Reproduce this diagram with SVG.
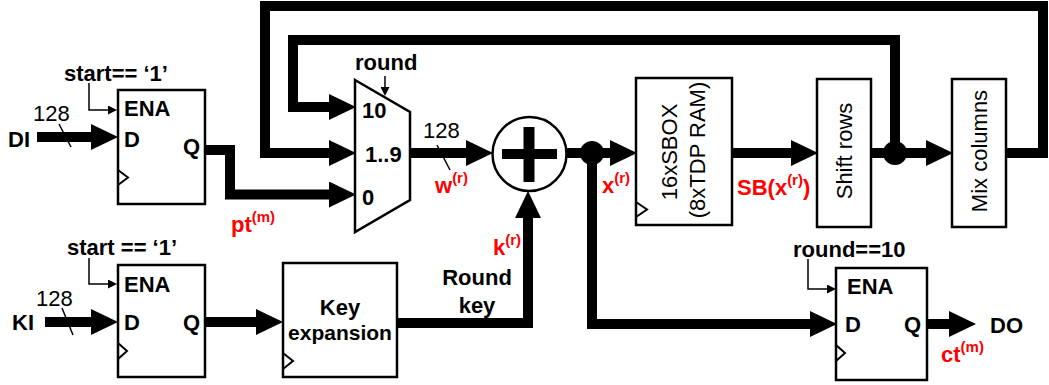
<svg xmlns="http://www.w3.org/2000/svg" width="1049" height="385" viewBox="0 0 1049 385">
<style>
text{font-family:"Liberation Sans",Arial,sans-serif;fill:#000}
.b{font-weight:bold;font-size:22px}
.r{font-size:22px}
.red{fill:#ff0000;font-weight:bold;font-size:22px}
.sup{font-size:15px}
.box{fill:#fff;stroke:#000;stroke-width:2.5}
.clk{fill:none;stroke:#000;stroke-width:2}
.bus{fill:none;stroke:#000;stroke-width:10;stroke-linejoin:miter}
.busa{fill:none;stroke:#000;stroke-width:10;stroke-linejoin:miter;marker-end:url(#ah)}
.ctl{fill:none;stroke:#000;stroke-width:1.5;marker-end:url(#sa)}
.sl{stroke:#000;stroke-width:1.5}
</style>
<defs>
<marker id="ah" viewBox="0 0 27 26" markerWidth="27" markerHeight="26" refX="0" refY="13" orient="auto" markerUnits="userSpaceOnUse"><path d="M0,0 L27,13 L0,26 z" fill="#000"/></marker>
<marker id="sa" viewBox="0 0 9 9" markerWidth="9" markerHeight="9" refX="0" refY="4.5" orient="auto" markerUnits="userSpaceOnUse"><path d="M0,0 L9,4.5 L0,9 z" fill="#000"/></marker>
</defs>

<g id="connectors">
<path class="busa" d="M37,137 H91"/>
<path class="busa" d="M205,150 H230 V194.5 H329"/>
<path class="busa" d="M1006,153 H1043 V6 H265 V153 H329"/>
<path class="busa" d="M895,153 V40 H293 V107 H329"/>
<path class="busa" d="M410,153 H466"/>
<path class="busa" d="M567,153 H610"/>
<path class="busa" d="M732,153 H791"/>
<path class="busa" d="M871,153 H926"/>
<path class="busa" d="M592,153 V324 H810"/>
<path class="busa" d="M927,324 H949"/>
<path class="busa" d="M45,322 H91"/>
<path class="busa" d="M205,322 H256"/>
<path class="busa" d="M397,323 H528 V218"/>
<circle cx="592" cy="153" r="12" fill="#000"/>
<circle cx="895" cy="153" r="12" fill="#000"/>
<path class="ctl" d="M89,83 V110 H108"/>
<path class="ctl" d="M89,258 V284 H108"/>
<path class="ctl" d="M808,259 V289 H827"/>
<path class="ctl" d="M385,76 V87"/>
<line class="sl" x1="59" y1="124" x2="71" y2="147"/>
<line class="sl" x1="62" y1="308" x2="73" y2="335"/>
<line class="sl" x1="437" y1="145" x2="450" y2="170"/>
</g>

<g id="labels">
<text class="b" x="8" y="147">DI</text>
<text class="b" x="12" y="330">KI</text>
<text class="b" x="990" y="333">DO</text>
<text class="r" x="33" y="121">128</text>
<text class="r" x="36" y="306">128</text>
<text class="r" x="423" y="138">128</text>
<text class="b" x="64" y="81">start== ‘1’</text>
<text class="b" x="67" y="255">start == ‘1’</text>
<text class="b" x="793" y="257">round==10</text>
<text class="b" x="355" y="70">round</text>
<text class="red" x="231" y="232">pt<tspan class="sup" dy="-10">(m)</tspan></text>
<text class="red" x="435" y="193">w<tspan class="sup" dy="-10">(r)</tspan></text>
<text class="red" x="602" y="193">x<tspan class="sup" dy="-10">(r)</tspan></text>
<text class="red" x="737" y="195">SB(x<tspan class="sup" dy="-10">(r)</tspan><tspan dy="10">)</tspan></text>
<text class="red" x="493" y="255">k<tspan class="sup" dy="-10">(r)</tspan></text>
<text class="red" x="941" y="362">ct<tspan class="sup" dy="-10">(m)</tspan></text>
<text class="b" x="477" y="285" text-anchor="middle">Round</text>
<text class="b" x="477" y="313" text-anchor="middle">key</text>
</g>

<g id="reg-pt">
<rect class="box" x="118" y="90" width="87" height="114"/>
<polyline class="clk" points="118,170 128,177.5 118,185"/>
<text class="b" x="124" y="116">ENA</text>
<text class="b" x="124" y="147">D</text>
<text class="b" x="183" y="154">Q</text>
</g>

<g id="reg-key">
<rect class="box" x="118" y="265" width="87" height="112"/>
<polyline class="clk" points="118,343 127,351 118,359"/>
<text class="b" x="124" y="292">ENA</text>
<text class="b" x="124" y="330">D</text>
<text class="b" x="183" y="330">Q</text>
</g>

<g id="reg-out">
<rect class="box" x="836" y="268" width="91" height="112"/>
<polyline class="clk" points="836,345 845,353 836,361"/>
<text class="b" x="847" y="294">ENA</text>
<text class="b" x="845" y="332">D</text>
<text class="b" x="904" y="332">Q</text>
</g>

<g id="mux">
<polygon class="box" points="355,80 410,112 410,200 355,232"/>
<text class="b" x="362" y="118">10</text>
<text class="b" x="365" y="162">1..9</text>
<text class="b" x="362" y="205">0</text>
</g>

<g id="xor">
<circle cx="529.5" cy="154" r="37" fill="#fff" stroke="#000" stroke-width="2.5"/>
<rect x="502" y="149" width="55" height="10" fill="#000"/>
<rect x="523.5" y="127" width="11" height="55" fill="#000"/>
</g>

<g id="key-expansion">
<rect class="box" x="283" y="263" width="114" height="114"/>
<polyline class="clk" points="283,353 293,361 283,369"/>
<text class="b" x="340" y="315" text-anchor="middle">Key</text>
<text class="b" x="340" y="340" text-anchor="middle" style="font-size:21px">expansion</text>
</g>

<g id="sbox">
<rect class="box" x="636" y="78" width="96" height="147"/>
<polyline class="clk" points="636,202 647,209.5 636,217"/>
<text class="r" transform="translate(677,152) rotate(-90)" text-anchor="middle">16xSBOX</text>
<text class="r" transform="translate(705,150) rotate(-90)" text-anchor="middle">(8xTDP RAM)</text>
</g>

<g id="shift-rows">
<rect class="box" x="817" y="79" width="54" height="148"/>
<text class="r" transform="translate(852,151) rotate(-90)" text-anchor="middle">Shift rows</text>
</g>

<g id="mix-columns">
<rect class="box" x="952" y="79" width="54" height="148"/>
<text class="r" transform="translate(987,151) rotate(-90)" text-anchor="middle">Mix columns</text>
</g>
</svg>
